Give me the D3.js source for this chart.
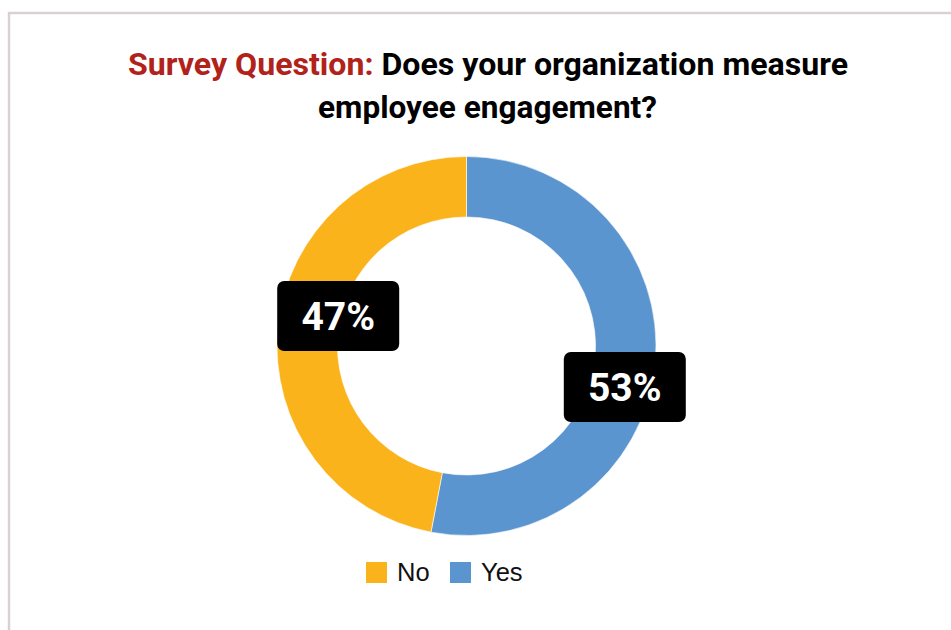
<!DOCTYPE html>
<html>
<head>
<meta charset="utf-8">
<script src="https://cdn.jsdelivr.net/npm/d3@7/dist/d3.min.js"></script>
<style>
  html, body { margin: 0; padding: 0; background: #ffffff; }
  svg { display: block; }
</style>
</head>
<body>
<div id="chart"></div>
<script>
// Survey answers, drawn clockwise from 12 o'clock
const categories = ["Yes", "No"];
const values = [53, 47];
const labels = ["53%", "47%"];
const legendOrder = ["No", "Yes"];
const colors = { "Yes": "#5B95CF", "No": "#FAB31B" };

const W = 951, H = 630;
const svg = d3.select("#chart").append("svg")
  .attr("width", W).attr("height", H);

// frame
svg.append("path")
  .attr("d", `M9,${H} L9,13 L${W},13`)
  .attr("fill", "none")
  .attr("stroke", "#d9d1d1")
  .attr("stroke-width", 2.5);

// title
const title = svg.append("g").attr("font-family", "Roboto, sans-serif").attr("font-weight", 700);
const t1 = title.append("text")
  .attr("x", 128).attr("y", 75)
  .attr("font-size", 31.5)
  .attr("textLength", 720).attr("lengthAdjust", "spacingAndGlyphs");
t1.append("tspan").attr("fill", "#B1221B").text("Survey Question:");
t1.append("tspan").attr("fill", "#000000").text(" Does your organization measure");
title.append("text")
  .attr("x", 318).attr("y", 117.5)
  .attr("font-size", 31.5)
  .attr("fill", "#000000")
  .attr("textLength", 339).attr("lengthAdjust", "spacingAndGlyphs")
  .text("employee engagement?");

// donut
const cx = 466.5, cy = 346, rOuter = 189.5, rInner = 129;
const data = categories.map((c, i) => ({ cat: c, value: values[i], label: labels[i] }));
const pie = d3.pie().sort(null).value(d => d.value);
const arc = d3.arc().innerRadius(rInner).outerRadius(rOuter);
const arcs = pie(data);

const g = svg.append("g").attr("transform", `translate(${cx},${cy})`);
g.selectAll("path.slice")
  .data(arcs)
  .join("path")
  .attr("class", "slice")
  .attr("d", arc)
  .attr("fill", d => colors[d.data.cat])
  .attr("stroke", "#ffffff")
  .attr("stroke-width", 0.6);

// value labels: dark rounded boxes placed near each slice
const labelArc = d3.arc().innerRadius(159).outerRadius(159);
const labelShift = { "Yes": [0, 26], "No": [30, -15] };
const boxW = 122, boxH = 70;
const lab = g.selectAll("g.lab")
  .data(arcs)
  .join("g")
  .attr("class", "lab")
  .attr("transform", d => {
    const [x, y] = labelArc.centroid(d);
    const s = labelShift[d.data.cat];
    return `translate(${x + s[0]},${y + s[1]})`;
  });
lab.append("rect")
  .attr("x", -boxW / 2).attr("y", -boxH / 2)
  .attr("width", boxW).attr("height", boxH)
  .attr("rx", 7).attr("ry", 7)
  .attr("fill", "#000000");
lab.append("text")
  .attr("text-anchor", "middle")
  .attr("dy", "0.36em")
  .attr("font-family", "Roboto, sans-serif")
  .attr("font-weight", 700)
  .attr("font-size", 39)
  .attr("fill", "#ffffff")
  .text(d => d.data.label);

// legend
const legend = svg.append("g").attr("font-family", "'Liberation Sans', Arial, sans-serif");
const legendX = { "No": 366, "Yes": 450 };
legendOrder.forEach(c => {
  const item = legend.append("g").attr("transform", `translate(${legendX[c]},562)`);
  item.append("rect").attr("width", 21).attr("height", 21).attr("fill", colors[c]);
  item.append("text")
    .attr("x", 31).attr("y", 19)
    .attr("font-size", 25.5)
    .attr("fill", "#111111")
    .text(c);
});
</script>
</body>
</html>
